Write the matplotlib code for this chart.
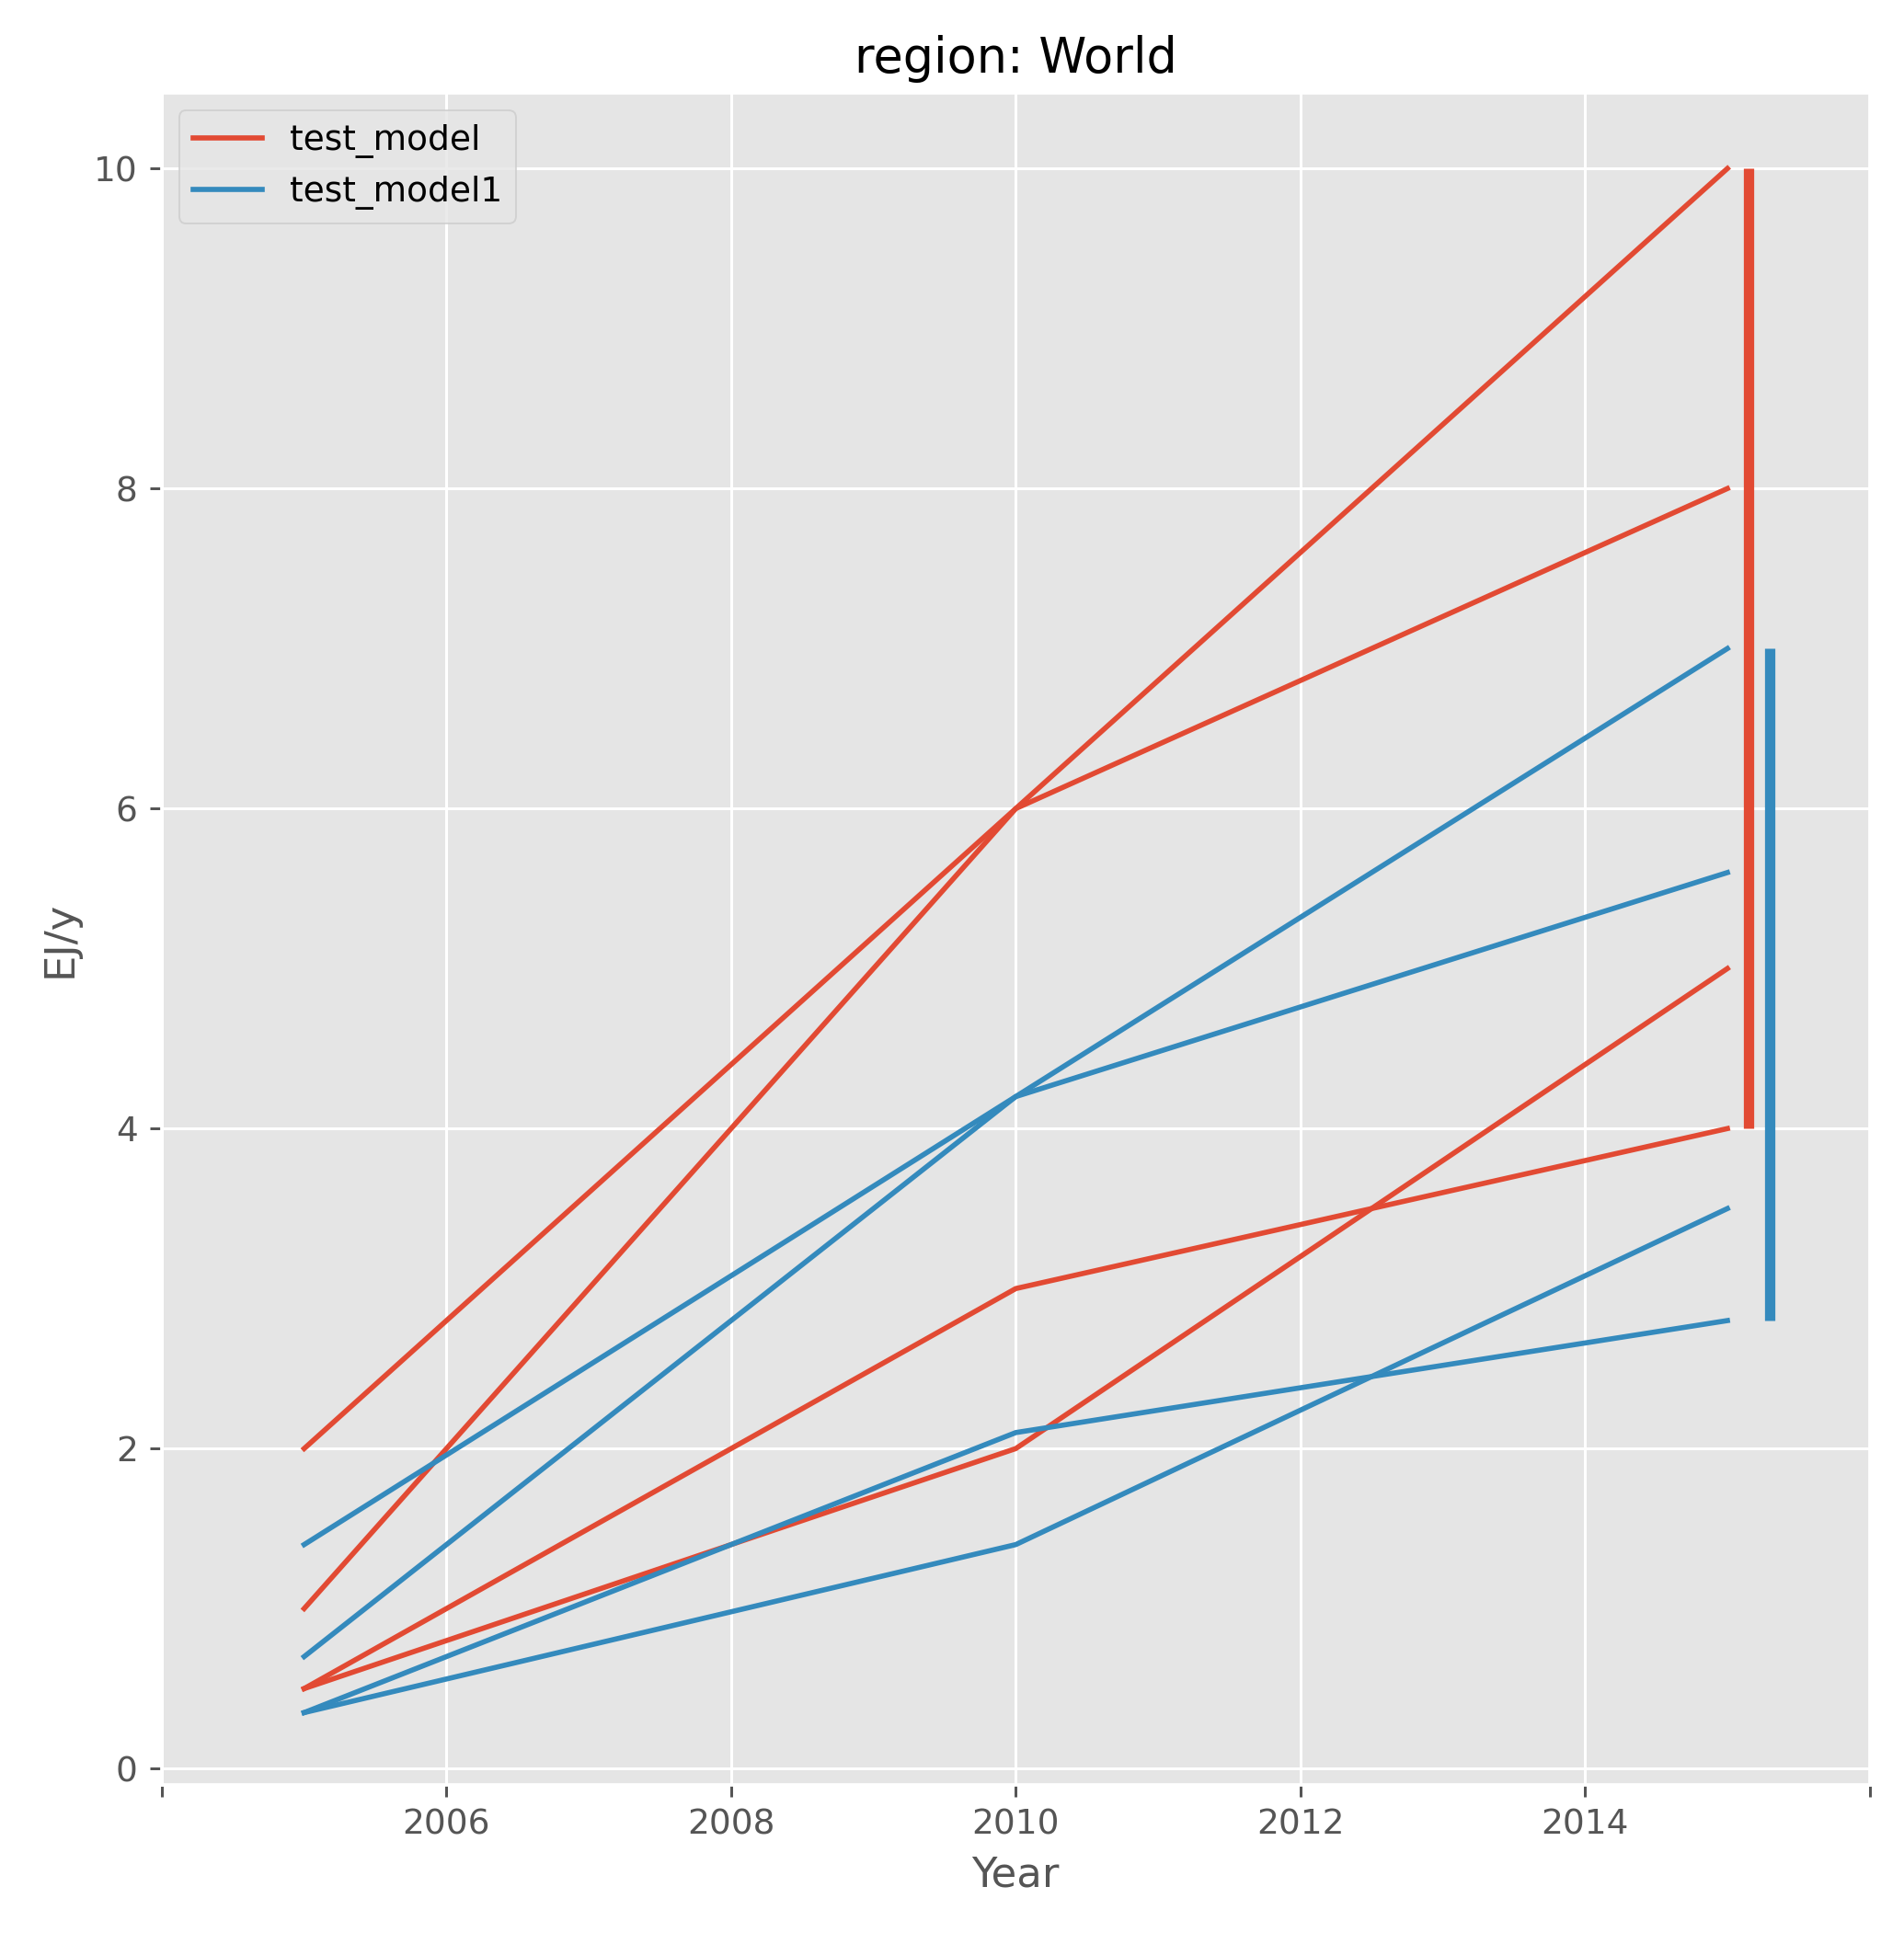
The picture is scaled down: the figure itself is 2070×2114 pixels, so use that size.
import matplotlib
matplotlib.use("Agg")
import matplotlib.pyplot as plt

plt.style.use("ggplot")
years = [2005, 2010, 2015]
red_series = [[2, 6, 10], [1, 6, 8], [0.5, 3, 4], [0.5, 2, 5]]
blue_series = [[1.4, 4.2, 5.6], [0.7, 4.2, 7], [0.35, 2.1, 2.8], [0.35, 1.4, 3.5]]
red, blue = "#E24A33", "#348ABD"

fig = plt.figure(figsize=(2070/270, 2114/270), dpi=270)
ax = fig.add_axes([0.085, 0.082, 0.897, 0.87])
for i, s in enumerate(red_series):
    ax.plot(years, s, color=red, lw=1.5, label="test_model" if i == 0 else None)
for i, s in enumerate(blue_series):
    ax.plot(years, s, color=blue, lw=1.5, label="test_model1" if i == 0 else None)
rend = [s[-1] for s in red_series]
bend = [s[-1] for s in blue_series]
ax.vlines(2015.15, min(rend), max(rend), color=red, lw=3)
ax.vlines(2015.3, min(bend), max(bend), color=blue, lw=3)
ax.set_xlim(2004, 2016)
ax.set_ylim(-0.1, 10.47)
ax.set_xticks([2004, 2006, 2008, 2010, 2012, 2014, 2016])
ax.set_xticklabels(["", "2006", "2008", "2010", "2012", "2014", ""])
ax.set_yticks([0, 2, 4, 6, 8, 10])
ax.set_xlabel("Year", fontsize=12)
ax.set_ylabel("EJ/y", fontsize=12)
ax.set_title("region: World", fontsize=14)
ax.legend(loc="upper left", fontsize=10)
fig.savefig("out.png", dpi=270)
